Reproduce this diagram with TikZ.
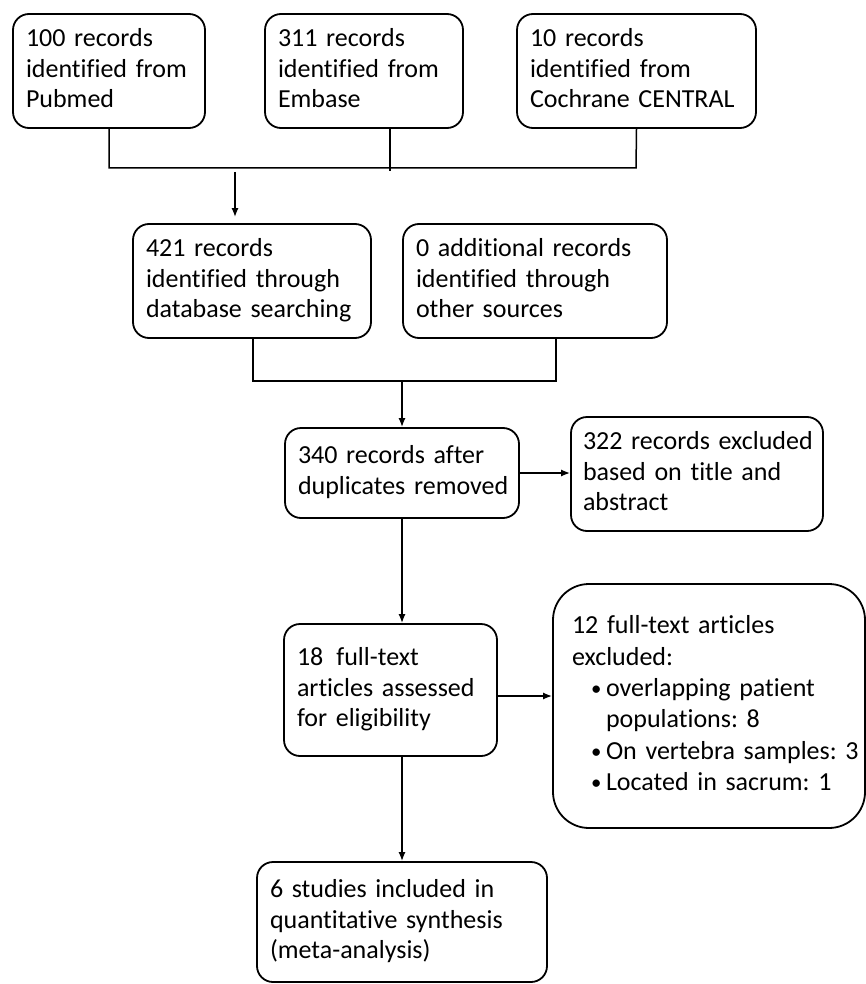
\documentclass[tikz,border=0pt]{standalone}
\usepackage{fontspec}
\usepackage{graphicx}
\setmainfont{Carlito}[Ligatures=NoCommon]
\usetikzlibrary{arrows.meta}
\frenchspacing
\newcommand{\lines}[1]{\begin{tabular}{@{}l@{}}#1\end{tabular}}
\newcommand{\bitem}{\hspace*{9.5pt}\makebox[7.5pt][l]{\raisebox{0.6pt}{\scalebox{0.8}{\textbullet}}}}
\newcommand{\bcont}{\hspace*{17pt}}
\begin{document}
\begin{tikzpicture}[x=0.5pt, y=-0.5pt, >={Latex[length=4.5pt,width=3.5pt]},
  box/.style={draw, line width=0.9pt, rounded corners=8pt, align=left,
    inner xsep=6.5pt, inner ysep=0pt, font=\fontsize{13pt}{15.4pt}\selectfont},
  link/.style={line width=0.75pt}]
  \useasboundingbox (0,0) rectangle (866,984);

  \node[box, text width=83pt, minimum height=57pt] (pubmed) at (109,71)
    {\lines{100 records\\identified from\\Pubmed}};
  \node[box, text width=86pt, minimum height=57pt] (embase) at (364,71)
    {\lines{311 records\\identified from\\Embase}};
  \node[box, text width=106.5pt, minimum height=57pt] (cochrane) at (636.5,71)
    {\lines{10 records\\identified from\\Cochrane CENTRAL}};

  \node[box, text width=106pt, minimum height=57pt] (dbsearch) at (252,281)
    {\lines{421 records\\identified through\\database searching}};
  \node[box, text width=119pt, minimum height=57pt] (othersrc) at (535,281)
    {\lines{0 additional records\\identified through\\other sources}};

  \node[box, text width=104pt, minimum height=45pt] (dedup) at (402,473)
    {\lines{340 records after\\duplicates removed}};
  \node[box, text width=114pt, minimum height=57pt, inner xsep=6pt] (exclTitle) at (697,474)
    {\lines{322 records excluded\\based on title and\\abstract}};

  \node[box, text width=93.5pt, minimum height=66pt] (fulltext) at (390.5,690)
    {\lines{18\enspace full-text\\articles assessed\\for eligibility}};
  \node[box, text width=137pt, minimum height=122pt, inner xsep=9.5pt,
    rounded corners=18pt, font=\fontsize{13pt}{15.7pt}\selectfont] (exclFull) at (709,706)
    {\lines{12 full-text articles\\excluded:\\
     \bitem overlapping patient\\\bcont populations: 8\\
     \bitem On vertebra samples: 3\\
     \bitem Located in sacrum: 1}};

  \node[box, text width=132pt, minimum height=60pt] (included) at (402,922)
    {\lines{6 studies included in\\quantitative synthesis\\(meta-analysis)}};

  % merging the three databases
  \coordinate (busA) at (109,168);
  \coordinate (busC) at (636,168);
  \coordinate (arrA) at (235,172);
  \draw[link] (pubmed.south) -- (busA) -- (busC) -- (cochrane.south);
  \draw[link] ([xshift=13pt]embase.south) -- ([xshift=13pt,yshift=-1.5pt]embase.south |- busA);
  \draw[link, ->] (arrA) -- ([yshift=3pt]arrA |- dbsearch.north);

  % merging the two sources
  \coordinate (busD) at (253,381);
  \coordinate (busE) at (556,381);
  \draw[link] (dbsearch.south -| busD) -- (busD) -- (busE) -- (othersrc.south -| busE);
  \draw[link, ->] (dedup.north |- busD) -- (dedup.north);

  \draw[link, ->] (dedup.east) -- (dedup.east -| exclTitle.west);
  \draw[link, ->] (dedup.south) -- (dedup.south |- fulltext.north);
  \draw[link, ->] ([yshift=-3pt]fulltext.east) -- ([yshift=-3pt]fulltext.east -| exclFull.west);
  \draw[link, ->] (fulltext.south -| included.north) -- (included.north);
\end{tikzpicture}
\end{document}
